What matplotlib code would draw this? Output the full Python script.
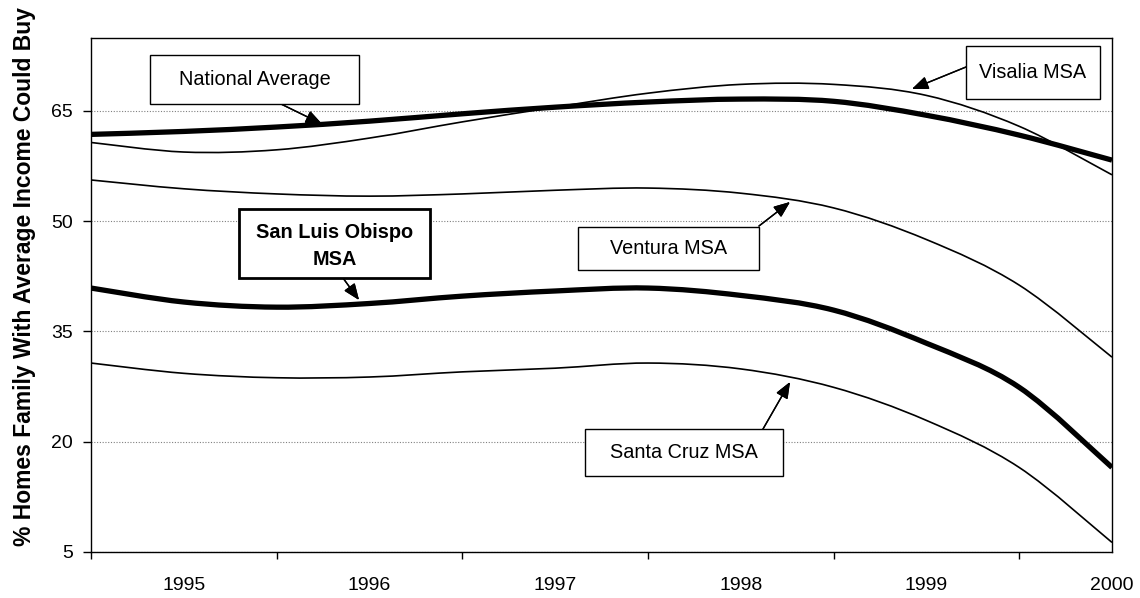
import numpy as np
import matplotlib.pyplot as plt
from matplotlib.path import Path
from matplotlib.patches import PathPatch, Rectangle

plt.rcParams['font.family'] = ['Liberation Sans', 'DejaVu Sans']

# half-year positions, values
x = [1994.5, 1995, 1995.5, 1996, 1996.5, 1997, 1997.5, 1998, 1998.5, 1999, 1999.5, 2000]
national = [61.8, 62.2, 62.8, 63.6, 64.6, 65.5, 66.2, 66.6, 66.3, 64.4, 61.7, 58.3]
visalia = [60.7, 59.4, 59.7, 61.3, 63.5, 65.5, 67.4, 68.6, 68.6, 67.1, 62.9, 56.3]
ventura = [55.6, 54.4, 53.7, 53.4, 53.7, 54.2, 54.5, 53.8, 51.8, 47.5, 41.3, 31.5]
slo = [40.9, 39.0, 38.3, 38.8, 39.8, 40.5, 40.9, 39.9, 37.9, 33.4, 27.4, 16.5]
santa_cruz = [30.7, 29.3, 28.7, 28.8, 29.5, 30.0, 30.7, 29.9, 27.4, 22.9, 16.5, 6.3]

years = [1995, 1996, 1997, 1998, 1999, 2000]
yticks = [5, 20, 35, 50, 65]

W, H = 1140, 598


def smooth_path(xs, ys):
    # excel-like smoothed line: cubic bezier segments through each point
    p = np.column_stack([xs, ys]).astype(float)
    verts = [p[0]]
    codes = [Path.MOVETO]
    n = len(p)
    for i in range(n - 1):
        p0 = p[max(i - 1, 0)]
        p3 = p[min(i + 2, n - 1)]
        c1 = p[i] + (p[i + 1] - p0) / 6.0
        c2 = p[i + 1] - (p3 - p[i]) / 6.0
        verts += [c1, c2, p[i + 1]]
        codes += [Path.CURVE4] * 3
    return Path(verts, codes)


def fig_xy(px, py):
    return px / W, 1 - py / H


fig = plt.figure(figsize=(W / 100, H / 100), dpi=100)
ax = fig.add_axes([91 / W, 1 - 552 / H, (1112 - 91) / W, (552 - 37.7) / H])

for series, lw in [(visalia, 1.2), (ventura, 1.2), (santa_cruz, 1.2),
                   (national, 3.8), (slo, 3.8)]:
    ax.add_patch(PathPatch(smooth_path(x, series), fill=False, ec='black',
                           lw=lw, capstyle='butt', joinstyle='round'))

ax.set_xlim(1994.5, 2000)
ax.set_ylim(5, 74.95)
ax.set_yticks(yticks)
ax.set_xticks(years)
ax.set_xticks(np.arange(1994.5, 2000, 1.0), minor=True)
ax.tick_params(axis='x', which='major', length=0, pad=18, labelsize=14)
ax.tick_params(axis='x', which='minor', length=5, width=1, direction='out')
ax.tick_params(axis='y', length=6, width=1, direction='out', pad=7, labelsize=14)
ax.yaxis.grid(True, color='#808080', linestyle=(0, (1, 1.5)), lw=0.8)
ax.set_axisbelow(True)
for s in ax.spines.values():
    s.set_linewidth(1.0)
    s.set_color('black')

fig.text(25 / W, 1 - 276 / H, '% Homes Family With Average Income Could Buy',
         rotation=90, ha='center', va='center', fontsize=16.5, fontweight='bold')

# label boxes: (text, left, top, right, bottom, bold, arrow start, arrow tip) in pixels
labels = [
    ('National Average', 150, 55, 359, 104, False, (281, 104), (322, 124)),
    ('Visalia MSA', 966, 46, 1100, 99, False, (966, 67), (912, 89)),
    ('San Luis Obispo\nMSA', 239, 209, 430, 278, True, (343, 278), (359, 300)),
    ('Ventura MSA', 578, 227, 759, 270, False, (759, 226), (790, 202)),
    ('Santa Cruz MSA', 585, 429, 783, 476, False, (763, 429), (790, 382)),
]
for txt, l, t, r, b, bold, a0, a1 in labels:
    x0, y0 = fig_xy(l, b)
    x1, y1 = fig_xy(r, t)
    fig.patches.append(Rectangle((x0, y0), x1 - x0, y1 - y0, transform=fig.transFigure,
                                 fc='white', ec='black', lw=2.0 if bold else 1.0, zorder=5))
    fig.text((x0 + x1) / 2, (y0 + y1) / 2 - (0.004 if bold else 0), txt,
             ha='center', va='center', fontsize=14.3,
             fontweight='bold' if bold else 'normal', zorder=6, linespacing=1.55)
    fig.add_artist(plt.annotate('', xy=fig_xy(*a1), xytext=fig_xy(*a0),
                                xycoords='figure fraction', textcoords='figure fraction',
                                arrowprops=dict(arrowstyle='-|>,head_length=0.55,head_width=0.22',
                                                color='black', lw=1.0,
                                                mutation_scale=18, shrinkA=0, shrinkB=0)))

fig.savefig('out.png', dpi=100)
